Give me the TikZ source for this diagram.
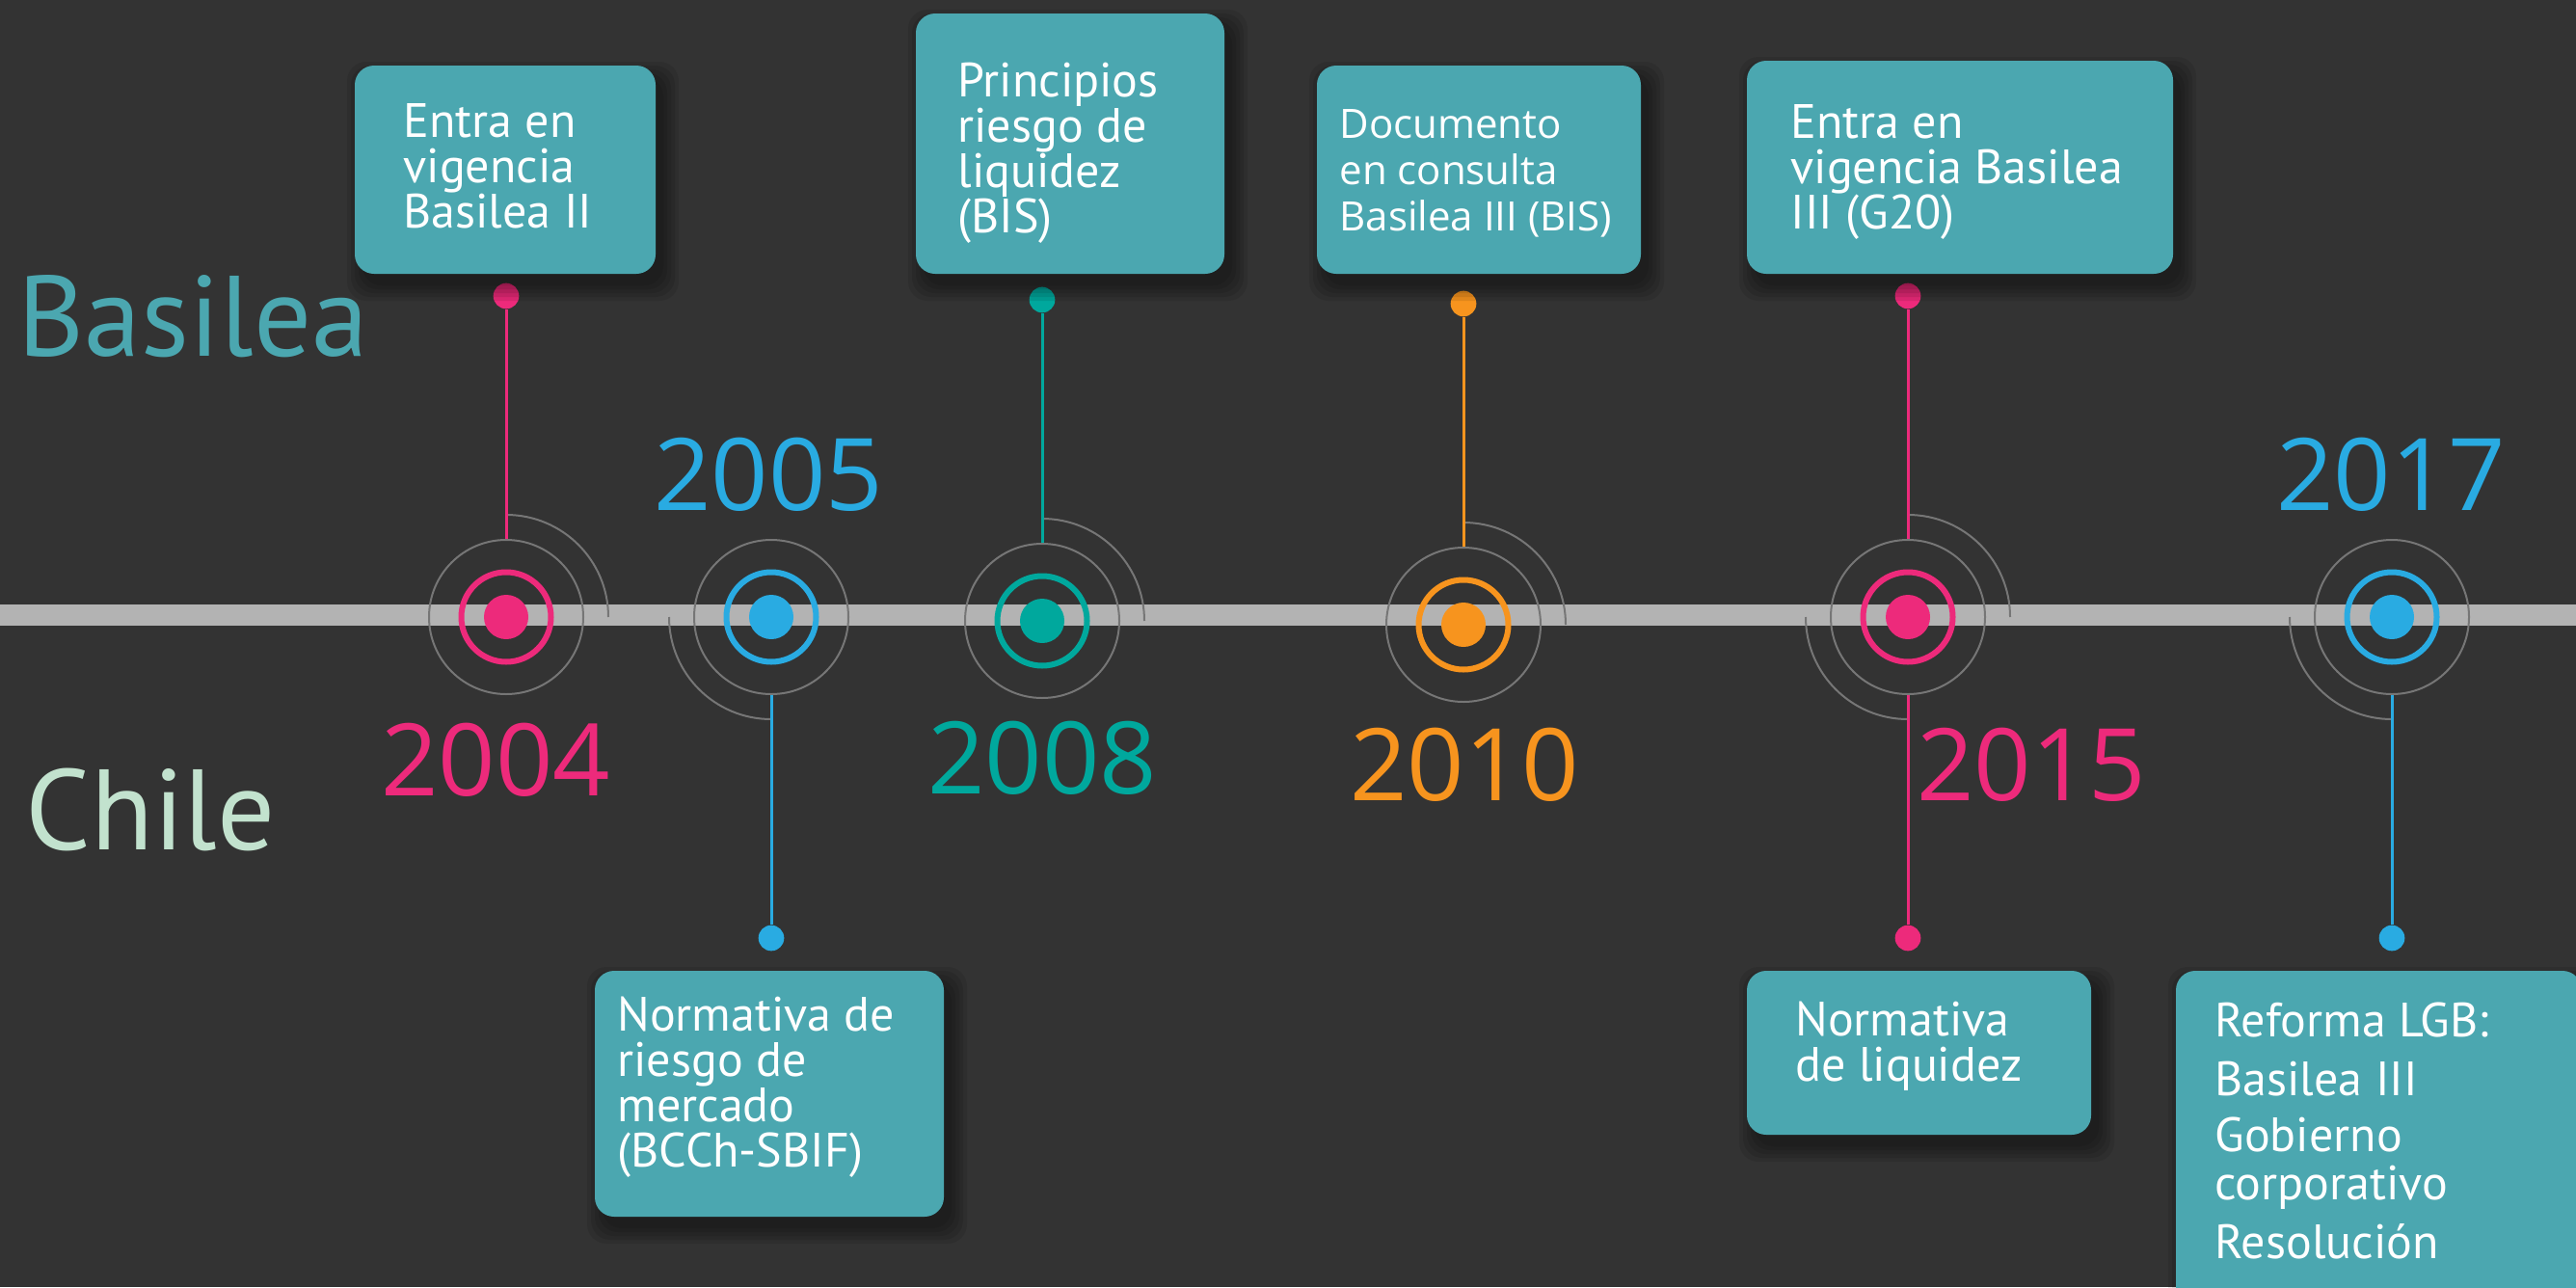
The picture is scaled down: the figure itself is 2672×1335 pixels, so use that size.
\documentclass[tikz,border=0pt]{standalone}
\usepackage{fontspec}
\setmainfont{PT Sans}
\newfontfamily\yearfont{Open Sans}
\definecolor{bgdark}{RGB}{51,51,51}
\definecolor{bargrey}{RGB}{179,179,179}
\definecolor{halogrey}{RGB}{118,118,118}
\definecolor{boxteal}{RGB}{75,167,176}
\definecolor{chilemint}{RGB}{194,226,206}
\definecolor{tlpink}{RGB}{237,42,123}
\definecolor{tlblue}{RGB}{41,171,226}
\definecolor{tlteal}{RGB}{0,168,157}
\definecolor{tlorange}{RGB}{247,148,30}
\usepackage{tikz}
\tikzset{every picture/.style={line width=0.75pt},
  halo/.style={circle, draw=halogrey, line width=1.5pt, minimum size=120pt, inner sep=0pt},
  haloarc/.style={draw=halogrey, line width=1.5pt},
  tone/.style={draw=#1, line width=4.5pt},
  pin/.style={circle, fill=#1, minimum size=20pt, inner sep=0pt},
  stem/.style={draw=#1, line width=2.25pt},
  eventbox/.style={fill=boxteal, rounded corners=15pt},
  eventtxt/.style={anchor=base west, inner sep=0pt, text=white, align=left, font=\fontsize{37.5}{35.25}\selectfont},
  yeartxt/.style={inner sep=0pt, font=\yearfont\fontsize{78}{78}\selectfont}
}
% soft shadow under a box: left, top, right, bottom
\newcommand{\eventshade}[4]{%
  \foreach \g in {16,12,8,4,0}
    \fill [black, opacity=0.09, rounded corners=15pt] (#1+8-\g,#2+12-\g) rectangle (#3+8+\g,#4+12+\g);}

\begin{document}
\begin{tikzpicture}[x=0.75pt,y=0.75pt,yscale=-1,xscale=1]
\useasboundingbox (0,0) rectangle (2672,1335);
\fill [bgdark] (0,0) rectangle (2672,1335);

%Shape: Rectangle [timeline bar]
\fill [bargrey] (0,627) rectangle (2672,649);

% Text Node
\node [anchor=base west, inner sep=0pt, text=boxteal, font=\fontsize{89}{89}\selectfont] (lblbasilea) at (18,369) {Basilea};
% Text Node
\node [anchor=base west, inner sep=0pt, text=chilemint, font=\fontsize{89}{89}\selectfont] (lblchile) at (26,881) {Chile};

%Shape: Circle [2004]
\node [halo] (ring2004) at (525,640) {};
\draw [tone=tlpink] (525,640) circle (46.5);
\fill [tlpink] (525,640) circle (23);
\draw [haloarc] (ring2004.center) ++(0,-106) arc [start angle=-90, end angle=0, radius=106];
\node [pin=tlpink] (pin2004) at (525,307) {};
\draw [stem=tlpink] (pin2004) -- (ring2004.north);

%Shape: Circle [2005]
\node [halo] (ring2005) at (800,640) {};
\draw [tone=tlblue] (800,640) circle (46.5);
\fill [tlblue] (800,640) circle (23);
\draw [haloarc] (ring2005.center) ++(-106,0) arc [start angle=180, end angle=90, radius=106];
\node [pin=tlblue] (pin2005) at (800,973) {};
\draw [stem=tlblue] (pin2005) -- (ring2005.south);

%Shape: Circle [2008]
\node [halo] (ring2008) at (1081,644) {};
\draw [tone=tlteal] (1081,644) circle (46.5);
\fill [tlteal] (1081,644) circle (23);
\draw [haloarc] (ring2008.center) ++(0,-106) arc [start angle=-90, end angle=0, radius=106];
\node [pin=tlteal] (pin2008) at (1081,311) {};
\draw [stem=tlteal] (pin2008) -- (ring2008.north);

%Shape: Circle [2010]
\node [halo] (ring2010) at (1518,648) {};
\draw [tone=tlorange] (1518,648) circle (46.5);
\fill [tlorange] (1518,648) circle (23);
\draw [haloarc] (ring2010.center) ++(0,-106) arc [start angle=-90, end angle=0, radius=106];
\node [pin=tlorange] (pin2010) at (1518,315) {};
\draw [stem=tlorange] (pin2010) -- (ring2010.north);

%Shape: Circle [2015]
\node [halo] (ring2015) at (1979,640) {};
\draw [tone=tlpink] (1979,640) circle (46.5);
\fill [tlpink] (1979,640) circle (23);
\draw [haloarc] (ring2015.center) ++(0,-106) arc [start angle=-90, end angle=0, radius=106];
\draw [haloarc] (ring2015.center) ++(-106,0) arc [start angle=180, end angle=90, radius=106];
\node [pin=tlpink] (pin2015a) at (1979,307) {};
\draw [stem=tlpink] (pin2015a) -- (ring2015.north);
\node [pin=tlpink] (pin2015b) at (1979,973) {};
\draw [stem=tlpink] (pin2015b) -- (ring2015.south);

%Shape: Circle [2017]
\node [halo] (ring2017) at (2481,640) {};
\draw [tone=tlblue] (2481,640) circle (46.5);
\fill [tlblue] (2481,640) circle (23);
\draw [haloarc] (ring2017.center) ++(-106,0) arc [start angle=180, end angle=90, radius=106];
\node [pin=tlblue] (pin2017) at (2481,973) {};
\draw [stem=tlblue] (pin2017) -- (ring2017.south);

% Text Node
\node [yeartxt, text=tlpink] (yr2004) at (514,788) {2004};
% Text Node
\node [yeartxt, text=tlblue] (yr2005) at (797,492) {2005};
% Text Node
\node [yeartxt, text=tlteal] (yr2008) at (1081,786) {2008};
% Text Node
\node [yeartxt, text=tlorange] (yr2010) at (1519,793) {2010};
% Text Node
\node [yeartxt, text=tlpink] (yr2015) at (2107,793) {2015};
% Text Node
\node [yeartxt, text=tlblue] (yr2017) at (2480,492) {2017};

%Shape: Rectangle [boxes]
\eventshade{368}{68}{680}{284}
\fill [eventbox] (368,68) rectangle (680,284);
\eventshade{950}{14}{1270}{284}
\fill [eventbox] (950,14) rectangle (1270,284);
\eventshade{1366}{68}{1702}{284}
\fill [eventbox] (1366,68) rectangle (1702,284);
\eventshade{1812}{63}{2254}{284}
\fill [eventbox] (1812,63) rectangle (2254,284);
\eventshade{617}{1007}{979}{1262}
\fill [eventbox] (617,1007) rectangle (979,1262);
\eventshade{1812}{1007}{2169}{1177}
\fill [eventbox] (1812,1007) rectangle (2169,1177);
\eventshade{2257}{1007}{2678}{1360}
\fill [eventbox] (2257,1007) rectangle (2678,1360);

% Text Node (anchored at the last line)
\node [eventtxt] (txt2004) at (418,236) {Entra en\\vigencia\\Basilea II};
% Text Node
\node [eventtxt] (txt2008) at (993,241) {Principios\\riesgo de\\liquidez\\(BIS)};
% Text Node
\node [eventtxt, font=\yearfont\fontsize{31.5}{36}\selectfont] (txt2010) at (1389,239) {Documento\\en consulta\\Basilea III (BIS)};
% Text Node
\node [eventtxt] (txt2015a) at (1857,237) {Entra en\\vigencia Basilea\\III (G20)};
% Text Node
\node [eventtxt] (txt2005) at (640,1210) {Normativa de\\riesgo de\\mercado\\(BCCh-SBIF)};
% Text Node
\node [eventtxt] (txt2015b) at (1862,1121) {Normativa\\de liquidez};
% Text Node
\node [eventtxt, font=\fontsize{37.5}{37.5}\selectfont] (txt2017) at (2297,1305) {Reforma LGB:\\[8pt]Basilea III\\[6pt]Gobierno\\corporativo\\[8pt]Resolución};

\end{tikzpicture}
\end{document}
